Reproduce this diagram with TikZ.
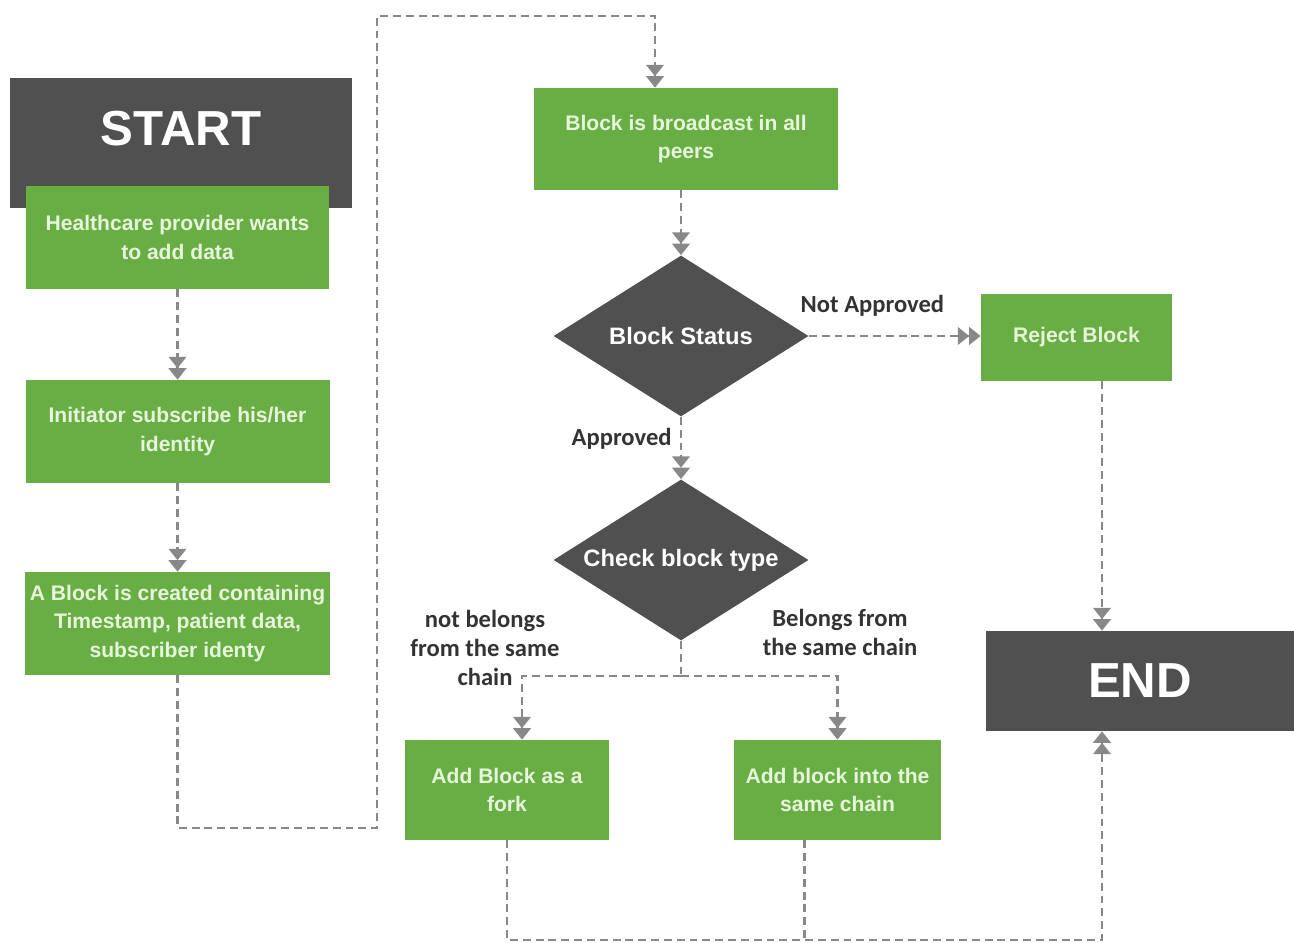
\documentclass[tikz,border=0pt]{standalone}
\usepackage{fontspec}
\setmainfont{Liberation Sans}
\newfontfamily\lblfont{Carlito}
\usetikzlibrary{arrows.meta,shapes.geometric,positioning,calc}
\definecolor{boxgreen}{HTML}{69AE45}
\definecolor{boxdark}{HTML}{505050}
\definecolor{boxtext}{HTML}{E6F6DA}
\definecolor{linegray}{HTML}{888888}
\definecolor{lbltext}{HTML}{333333}

\begin{document}
\begin{tikzpicture}
\tikzstyle{term} = [fill=boxdark, text=white, font=\bfseries\fontsize{28}{30}\selectfont, inner sep=0pt]
\tikzstyle{proc} = [fill=boxgreen, text=boxtext, font=\bfseries\fontsize{12}{16}\selectfont, align=center, inner sep=0pt]
\tikzstyle{decide} = [diamond, aspect=1.58, fill=boxdark, text=white, font=\bfseries\fontsize{13.5}{16}\selectfont, inner sep=0pt, minimum width=5.1cm, minimum height=3.22cm]
\tikzstyle{dline} = [draw=linegray, line width=1.2pt, dash pattern=on 4.5pt off 2.8pt]
\tikzstyle{arr} = [dline, -{Triangle[length=6.5pt,width=10pt]Triangle[length=6.5pt,width=10pt]}]
\tikzstyle{lbl} = [text=lbltext, font=\lblfont\bfseries\fontsize{14}{16.5}\selectfont, align=center]
\useasboundingbox (0,0) rectangle (25.88,-18.86);
% left column
\node[term, minimum width=6.84cm, minimum height=2.6cm, text depth=0.6cm] (start) at (3.62,-2.86) {START};
\node[proc, minimum width=6.06cm, minimum height=2.06cm] (hc) at (3.55,-4.75) {Healthcare provider wants\\to add data};
\node[proc, minimum width=6.08cm, minimum height=2.06cm] (init) at (3.55,-8.63) {Initiator subscribe his/her\\identity};
\node[proc, minimum width=6.1cm, minimum height=2.06cm] (blk) at (3.55,-12.47) {A Block is created containing\\Timestamp, patient data,\\subscriber identy};
\draw[arr] (hc.south) -- (init.north);
\draw[arr] (init.south) -- (blk.north);
% middle column
\node[proc, minimum width=6.08cm, minimum height=2.04cm] (bcast) at (13.72,-2.78) {Block is broadcast in all\\peers};
\node[decide] (status) at (13.62,-6.72) {Block Status};
\node[decide] (check) at (13.62,-11.2) {Check block type};
\node[proc, minimum width=4.08cm, minimum height=2cm] (fork) at (10.14,-15.8) {Add Block as a\\fork};
\node[proc, minimum width=4.14cm, minimum height=2cm] (chain) at (16.75,-15.8) {Add block into the\\same chain};
% right column
\node[proc, minimum width=3.82cm, minimum height=1.74cm] (reject) at (21.53,-6.75) {Reject Block};
\node[term, minimum width=6.16cm, minimum height=2cm] (end) at (22.8,-13.62) {END};
\coordinate (l1) at (7.54,-16.56);
\coordinate (l2) at (13.1,-0.32);
\coordinate (split) at (13.62,-13.52);
\coordinate (ecol) at (22.04,-18.8);
\draw[arr] (blk.south) |- (l1) |- (l2) -- (l2 |- bcast.north);
\draw[arr] (bcast.south -| status.north) -- (status.north);
\draw[arr] (status.east) -- (status.east -| reject.west) node[lbl, pos=0.37, above=0.25cm] {Not Approved};
\draw[arr] (status.south) -- (check.north) node[lbl, pos=0.35, left=0.05cm] {Approved};
\draw[arr] (reject.south -| ecol) -- (end.north -| ecol);
\draw[dline] (check.south) -- (split);
\draw[arr] (split) -| ([xshift=0.3cm]fork.north);
\draw[arr] (split) -| (chain.north);
\draw[arr] (fork.south) |- (ecol) -- (end.south -| ecol);
\draw[dline] ([xshift=-0.66cm]chain.south) -- ([xshift=-0.66cm]chain.south |- ecol);
\node[lbl] (nb) at (9.7,-12.96) {not belongs\\from the same\\chain};
\node[lbl] (bf) at (16.8,-12.64) {Belongs from\\the same chain};
\end{tikzpicture}
\end{document}
